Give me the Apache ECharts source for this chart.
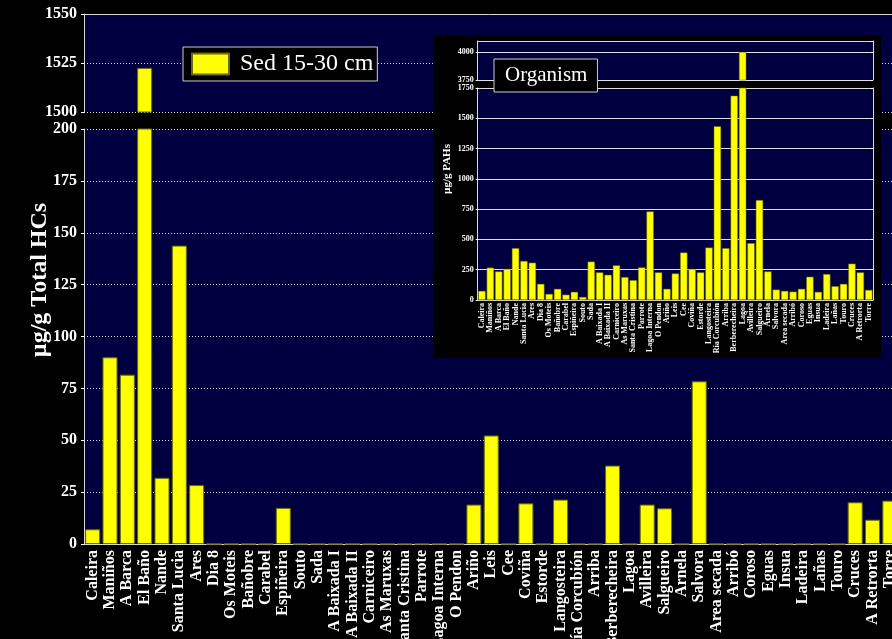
<!DOCTYPE html>
<html>
<head>
<meta charset="utf-8">
<script src="https://cdn.jsdelivr.net/npm/echarts@6/dist/echarts.min.js"></script>
<style>
html,body{margin:0;padding:0;background:#000;}
#main{position:absolute;left:0;top:0;width:892px;height:639px;}
#inset{position:absolute;left:433px;top:35px;width:448px;height:323px;}
</style>
</head>
<body>
<div id="main"></div>
<div id="inset"></div>
<script>
const categories = ['Caleira','Maniños','A Barca','El Baño','Nande','Santa Lucia','Ares','Dia 8','Os Moteis','Bañobre','Carabel','Espiñeira','Souto','Sada','A Baixada I','A Baixada II','Carniceiro','As Maruxas','Santa Cristina','Parrote','Lagoa Interna','O Pendon','Ariño','Leis','Cee','Coviña','Estorde','Langosteira','Ría Corcubión','Arriba','Berberecheira','Lagoa','Avilleira','Salgueiro','Arnela','Salvora','Area secada','Arribó','Coroso','Eguas','Insua','Ladeira','Lañas','Touro','Cruces','A Retrorta','Torre'];

const sedValues = [7.1, 90, 81.6, 1522.5, 31.9, 143.8, 28.4, 0, 0, 0, 0, 17.4, 0, 0, 0, 0, 0, 0, 0, 0, 0, 0, 19, 52.3, 0, 19.6, 0, 21.4, 0, 0, 37.8, 0, 19, 17.2, 0, 78.4, 0, 0, 0, 0, 0, 0, 0, 0, 20.1, 11.7, 20.9];

const organismValues = [75, 267, 236, 256, 428, 322, 308, 133, 50, 92, 44, 67, 25, 317, 228, 208, 286, 189, 164, 269, 731, 228, 92, 219, 392, 256, 228, 433, 1434, 428, 1687, 4000, 469, 825, 236, 86, 75, 69, 92, 192, 67, 214, 114, 133, 300, 228, 83];

const sedLowRange = [0, 200, 25];
const sedHighRange = [1500, 1550, 25];
const orgLowRange = [0, 1750, 250];
const orgHighRange = [3750, 4100, 250];

const serif = 'Liberation Serif';
const navy = '#000040';
const yellow = '#ffff00';
const plain = v => String(v);

// ---------- main chart ----------
const main = echarts.init(document.getElementById('main'));
const axisLineW = {lineStyle: {color: '#d8d8d8', width: 1}};
const mainYLabel = {color: '#fff', fontFamily: serif, fontWeight: 'bold', fontSize: 16, margin: 7, formatter: plain};
main.setOption({
  backgroundColor: '#000',
  animation: false,
  legend: {
    data: ['Sed 15-30 cm'],
    left: 183, top: 47,
    padding: [5, 4, 5, 8],
    itemWidth: 37, itemHeight: 21,
    icon: 'rect',
    backgroundColor: '#000',
    borderColor: '#cccccc', borderWidth: 1,
    textStyle: {color: '#fff', fontFamily: serif, fontSize: 24, padding: [0, 0, 0, 6]},
    selectedMode: false
  },
  graphic: [{
    type: 'text',
    x: 40, y: 280,
    rotation: Math.PI / 2,
    style: {
      text: 'µg/g Total HCs',
      fill: '#fff',
      font: 'bold 24px "Liberation Serif"',
      textAlign: 'center',
      textVerticalAlign: 'middle'
    }
  }],
  grid: [
    {left: 84, right: -6.5, top: 14, height: 98, show: true, backgroundColor: navy, borderWidth: 0, containLabel: false, outerBoundsMode: 'none'},
    {left: 84, right: -6.5, top: 129, height: 415, show: true, backgroundColor: navy, borderWidth: 0, containLabel: false, outerBoundsMode: 'none'}
  ],
  xAxis: [
    {gridIndex: 0, type: 'category', data: categories, position: 'top',
     axisLine: axisLineW, axisTick: {inside: true, length: 3, lineStyle: {color: '#fff'}},
     axisLabel: {show: false}},
    {gridIndex: 1, type: 'category', data: categories, position: 'bottom',
     axisLine: axisLineW, axisTick: {inside: true, length: 3, lineStyle: {color: '#fff'}},
     axisLabel: {interval: 0, rotate: 90, color: '#fff', fontFamily: serif, fontWeight: 'bold', fontSize: 16, margin: 6}}
  ],
  yAxis: [
    {gridIndex: 0, type: 'value', min: sedHighRange[0], max: sedHighRange[1], interval: sedHighRange[2],
     axisLine: {show: true, lineStyle: {color: '#d8d8d8'}},
     axisTick: {show: true, length: 3, lineStyle: {color: '#fff'}},
     axisLabel: mainYLabel,
     splitLine: {show: true, lineStyle: {color: 'rgba(255,255,255,0.85)', type: [1, 2], width: 1}}},
    {gridIndex: 1, type: 'value', min: sedLowRange[0], max: sedLowRange[1], interval: sedLowRange[2],
     axisLine: {show: true, lineStyle: {color: '#d8d8d8'}},
     axisTick: {show: true, length: 3, lineStyle: {color: '#fff'}},
     axisLabel: mainYLabel,
     splitLine: {show: true, lineStyle: {color: 'rgba(255,255,255,0.85)', type: [1, 2], width: 1}}}
  ],
  series: [
    {name: 'Sed 15-30 cm', type: 'bar', xAxisIndex: 0, yAxisIndex: 0,
     data: sedValues.map(v => v > sedHighRange[0] ? v : '-'),
     barWidth: 15, clip: true,
     itemStyle: {color: yellow, borderColor: '#6b6b00', borderWidth: 1}},
    {name: 'Sed 15-30 cm', type: 'bar', xAxisIndex: 1, yAxisIndex: 1,
     data: sedValues, barWidth: 15, clip: true,
     itemStyle: {color: yellow, borderColor: '#6b6b00', borderWidth: 1}}
  ]
});

// ---------- inset chart ----------
const inset = echarts.init(document.getElementById('inset'));
const insLabel = {color: '#fff', fontFamily: serif, fontWeight: 'bold', fontSize: 8, margin: 4, formatter: plain, showMaxLabel: false};
const insLabelLow = {color: '#fff', fontFamily: serif, fontWeight: 'bold', fontSize: 8, margin: 4, formatter: plain};
const insSplit = {show: true, lineStyle: {color: '#e0e0e0', width: 1}};
const insTick = {show: true, length: 2, lineStyle: {color: '#fff'}};
inset.setOption({
  backgroundColor: '#000',
  animation: false,
  legend: {
    data: ['Organism'],
    left: 61, top: 24,
    padding: [6, 10, 6, 5],
    itemWidth: 0, itemHeight: 0,
    backgroundColor: '#000',
    borderColor: '#cccccc', borderWidth: 1,
    textStyle: {color: '#fff', fontFamily: serif, fontSize: 21},
    selectedMode: false
  },
  graphic: [{
    type: 'text',
    x: 14, y: 134,
    rotation: Math.PI / 2,
    style: {
      text: 'µg/g PAHs',
      fill: '#fff',
      font: 'bold 11px "Liberation Serif"',
      textAlign: 'center',
      textVerticalAlign: 'middle'
    }
  }],
  grid: [
    {left: 44.7, right: 8, top: 6, height: 39, show: true, backgroundColor: navy, borderWidth: 0, containLabel: false, outerBoundsMode: 'none'},
    {left: 44.7, right: 8, top: 53, height: 212, show: true, backgroundColor: navy, borderWidth: 0, containLabel: false, outerBoundsMode: 'none'}
  ],
  xAxis: [
    {gridIndex: 0, type: 'category', data: categories, position: 'top',
     axisLine: axisLineW, axisTick: {inside: true, length: 2, lineStyle: {color: '#fff'}},
     axisLabel: {show: false}},
    {gridIndex: 1, type: 'category', data: categories, position: 'bottom',
     axisLine: axisLineW, axisTick: {inside: true, length: 2, lineStyle: {color: '#fff'}},
     axisLabel: {interval: 0, rotate: 90, color: '#fff', fontFamily: serif, fontWeight: 'bold', fontSize: 8, margin: 3}}
  ],
  yAxis: [
    {gridIndex: 0, type: 'value', min: orgHighRange[0], max: orgHighRange[1], interval: orgHighRange[2],
     axisLine: {show: true, lineStyle: {color: '#d8d8d8'}}, axisTick: insTick, axisLabel: insLabel, splitLine: insSplit},
    {gridIndex: 1, type: 'value', min: orgLowRange[0], max: orgLowRange[1], interval: orgLowRange[2],
     axisLine: {show: true, lineStyle: {color: '#d8d8d8'}}, axisTick: insTick, axisLabel: insLabelLow, splitLine: insSplit},
    {gridIndex: 0, type: 'value', position: 'right', min: orgHighRange[0], max: orgHighRange[1], interval: orgHighRange[2],
     axisLine: {show: true, lineStyle: {color: '#d8d8d8'}}, axisTick: {show: true, inside: true, length: 2, lineStyle: {color: '#fff'}},
     axisLabel: {show: false}, splitLine: {show: false}},
    {gridIndex: 1, type: 'value', position: 'right', min: orgLowRange[0], max: orgLowRange[1], interval: orgLowRange[2],
     axisLine: {show: true, lineStyle: {color: '#d8d8d8'}}, axisTick: {show: true, inside: true, length: 2, lineStyle: {color: '#fff'}},
     axisLabel: {show: false}, splitLine: {show: false}}
  ],
  series: [
    {name: 'Organism', type: 'bar', xAxisIndex: 0, yAxisIndex: 0,
     data: organismValues.map(v => v > orgHighRange[0] ? v : '-'),
     barCategoryGap: '13%', clip: true,
     itemStyle: {color: yellow, borderColor: '#6b6b00', borderWidth: 0.5}},
    {name: 'Organism', type: 'bar', xAxisIndex: 1, yAxisIndex: 1,
     data: organismValues, barCategoryGap: '13%', clip: true,
     itemStyle: {color: yellow, borderColor: '#6b6b00', borderWidth: 0.5}}
  ]
});
</script>
</body>
</html>
